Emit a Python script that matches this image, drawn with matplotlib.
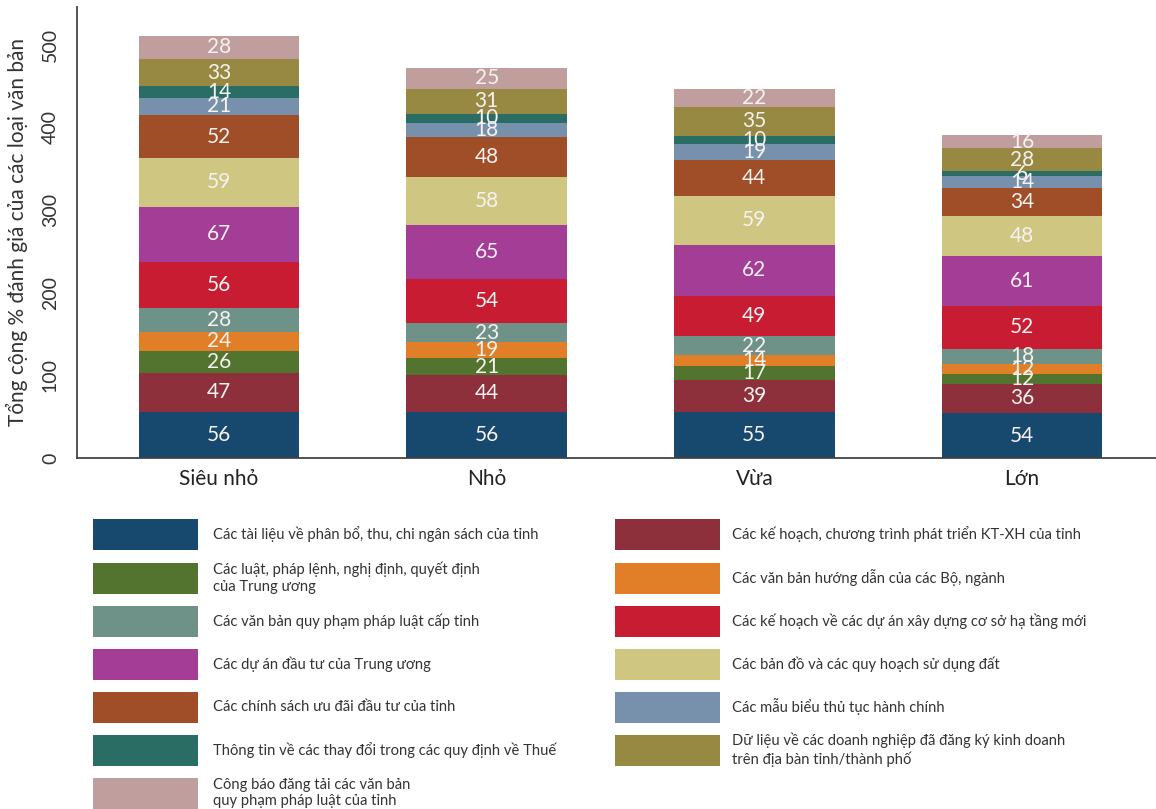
import matplotlib
matplotlib.use("Agg")
import matplotlib.pyplot as plt
from matplotlib.patches import Rectangle
import numpy as np

plt.rcParams["font.family"] = ["Lato", "DejaVu Sans"]

groups = ["Siêu nhỏ", "Nhỏ", "Vừa", "Lớn"]

labels = [
    "Các tài liệu về phân bổ, thu, chi ngân sách của tỉnh",
    "Các kế hoạch, chương trình phát triển KT-XH của tỉnh",
    "Các luật, pháp lệnh, nghị định, quyết định\ncủa Trung ương",
    "Các văn bản hướng dẫn của các Bộ, ngành",
    "Các văn bản quy phạm pháp luật cấp tỉnh",
    "Các kế hoạch về các dự án xây dựng cơ sở hạ tầng mới",
    "Các dự án đầu tư của Trung ương",
    "Các bản đồ và các quy hoạch sử dụng đất",
    "Các chính sách ưu đãi đầu tư của tỉnh",
    "Các mẫu biểu thủ tục hành chính",
    "Thông tin về các thay đổi trong các quy định về Thuế",
    "Dữ liệu về các doanh nghiệp đã đăng ký kinh doanh\ntrên địa bàn tỉnh/thành phố",
    "Công báo đăng tải các văn bản\nquy phạm pháp luật của tỉnh",
]

ngan_sach = [56, 56, 55, 54]
ke_hoach_ktxh = [47, 44, 39, 36]
luat_tw = [26, 21, 17, 12]
huong_dan_bo = [24, 19, 14, 12]
qppl_tinh = [28, 23, 22, 18]
ha_tang = [56, 54, 49, 52]
du_an_tw = [67, 65, 62, 61]
ban_do = [59, 58, 59, 48]
uu_dai = [52, 48, 44, 34]
mau_bieu = [21, 18, 19, 14]
thue = [14, 10, 10, 6]
doanh_nghiep = [33, 31, 35, 28]
cong_bao = [28, 25, 22, 16]

series = [ngan_sach, ke_hoach_ktxh, luat_tw, huong_dan_bo, qppl_tinh, ha_tang,
          du_an_tw, ban_do, uu_dai, mau_bieu, thue, doanh_nghiep, cong_bao]

colors = ["#17486e", "#8e303b", "#52742f", "#e07f27", "#6f9288", "#c81c33",
          "#a33d95", "#cfc682", "#a04e28", "#7791ac", "#2a6d65", "#978842",
          "#c09e9d"]

fig = plt.figure(figsize=(11.56, 8.09), dpi=100)
ax = fig.add_axes([0.0666, 0.434, 0.9334, 0.5575])

x = np.arange(len(groups))
bottom = np.zeros(len(groups))
for vals, c in zip(series, colors):
    vals = np.array(vals, dtype=float)
    ax.bar(x, vals, 0.6, bottom=bottom, color=c, linewidth=0)
    for xi, b, v in zip(x, bottom, vals):
        ax.text(xi, b + v / 2, f"{int(v)}", ha="center", va="center",
                color="#f6f2f2", fontsize=15)
    bottom += vals

ax.set_xlim(-0.53, 3.5)
ax.set_ylim(0, 546)
ax.set_yticks([0, 100, 200, 300, 400, 500])
ax.set_xticks(x)
ax.set_xticklabels(groups, fontsize=15, color="#222222")
ax.tick_params(axis="x", length=0, pad=8)
ax.tick_params(axis="y", length=0, pad=13, labelsize=14, labelcolor="#333333")
for lbl in ax.get_yticklabels():
    lbl.set_rotation(90)
    lbl.set_va("center")
ax.set_ylabel("Tổng cộng % đánh giá của các loại văn bản", fontsize=15,
              color="#333333", labelpad=10)
for s in ["top", "right"]:
    ax.spines[s].set_visible(False)
for s in ["left", "bottom"]:
    ax.spines[s].set_color("#444444")
    ax.spines[s].set_linewidth(1.3)

# legend: two columns of colour blocks with captions, in pixel coordinates
lg = fig.add_axes([0, 0, 1, 0.4])
lg.set_xlim(0, 1156)
lg.set_ylim(809, 809 - 0.4 * 809)
lg.axis("off")
row_y = [534, 578, 621, 664, 707, 750, 793]
for i, (lab, c) in enumerate(zip(labels, colors)):
    col, row = i % 2, i // 2
    x0 = 93 if col == 0 else 615
    tx = 213 if col == 0 else 732
    yc = row_y[row]
    lg.add_patch(Rectangle((x0, yc - 15.5), 105, 31, color=c, lw=0))
    lg.text(tx, yc, lab, va="center", ha="left", fontsize=10.6,
            color="#333333", linespacing=1.25)

fig.savefig("out.png", dpi=100)
